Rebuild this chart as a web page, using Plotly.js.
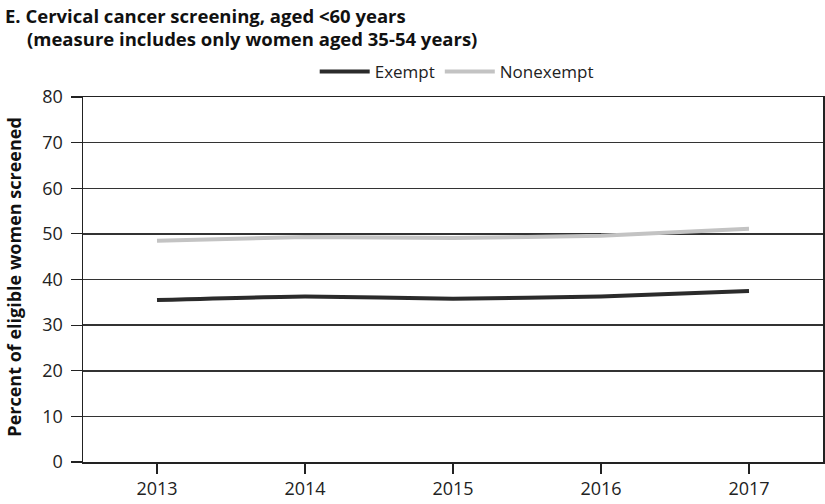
<!DOCTYPE html>
<html>
<head>
<meta charset="utf-8">
<script src="https://cdn.plot.ly/plotly-3.0.1.min.js"></script>
<style>html,body{margin:0;padding:0;background:#fff;}#chart{width:825px;height:504px;}</style>
</head>
<body>
<div id="chart"></div>
<script>
const years = [2013, 2014, 2015, 2016, 2017];
const exempt = [35.5, 36.3, 35.8, 36.3, 37.5];
const nonexempt = [48.5, 49.3, 49.1, 49.6, 51.1];
const yTicks = [0, 10, 20, 30, 40, 50, 60, 70, 80];

const FONT = '"Open Sans", "Noto Sans", sans-serif';

const traces = [
  {x: years, y: exempt, name: 'Exempt', type: 'scatter', mode: 'lines',
   line: {color: '#2b2b2b', width: 4, shape: 'spline', smoothing: 0.4}},
  {x: years, y: nonexempt, name: 'Nonexempt', type: 'scatter', mode: 'lines',
   line: {color: '#c3c3c3', width: 4, shape: 'spline', smoothing: 0.4}}
];

const layout = {
  width: 825, height: 504,
  margin: {l: 83, r: 2, t: 97, b: 42},
  paper_bgcolor: '#fff', plot_bgcolor: '#fff',
  font: {family: FONT, color: '#222', size: 17},
  showlegend: true,
  legend: {orientation: 'h', x: 0.505, xanchor: 'center', y: 1 + 25 / 365, yanchor: 'middle',
           font: {family: FONT, size: 17, color: '#222'}, itemwidth: 50, traceorder: 'normal'},
  xaxis: {range: [2012.5, 2017.5], tickvals: years, ticktext: years.map(String),
          showgrid: false, zeroline: false, showline: true, linecolor: '#222', linewidth: 1.5,
          mirror: true, ticks: 'outside', ticklen: 10, tickwidth: 1.2, tickcolor: '#222',
          tickfont: {size: 18}, fixedrange: true},
  yaxis: {range: [0, 80], tickvals: yTicks, showgrid: true, gridcolor: '#333', gridwidth: 1.5,
          zeroline: false, showline: true, linecolor: '#222', linewidth: 1.5, mirror: true,
          ticks: 'outside', ticklen: 11, tickwidth: 1.2, tickcolor: '#222',
          tickfont: {size: 18}, ticklabelstandoff: 4},
  annotations: [
    {text: '<b>E. Cervical cancer screening, aged &lt;60 years</b>', xref: 'paper', yref: 'paper',
     x: (3 - 83) / 740, y: 1.0 + (97 - 15) / 365, xanchor: 'left', yanchor: 'middle', showarrow: false,
     font: {family: FONT, size: 18.5, color: '#111'}},
    {text: '<b>(measure includes only women aged 35-54 years)</b>', xref: 'paper', yref: 'paper',
     x: (25 - 83) / 740, y: 1.0 + (97 - 39) / 365, xanchor: 'left', yanchor: 'middle', showarrow: false,
     font: {family: FONT, size: 18.5, color: '#111'}},
    {text: '<b>Percent of eligible women screened</b>', xref: 'paper', yref: 'paper', textangle: -90,
     x: (14 - 83) / 740, y: 0.505, xanchor: 'center', yanchor: 'middle', showarrow: false,
     font: {family: FONT, size: 18, color: '#111'}}
  ]
};

Plotly.newPlot('chart', traces, layout, {displayModeBar: false, staticPlot: true});
</script>
</body>
</html>
